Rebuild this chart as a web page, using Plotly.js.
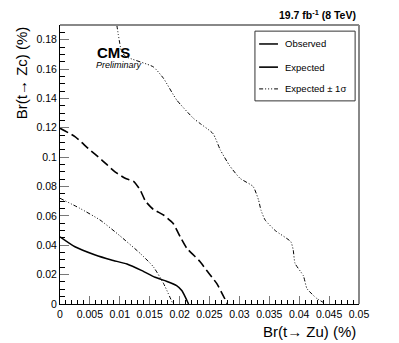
<!DOCTYPE html>
<html>
<head>
<meta charset="utf-8">
<script src="https://cdn.plot.ly/plotly-3.0.1.min.js"></script>
<style>
  body { margin: 0; background: #fff; }
  #plot { width: 399px; height: 343px; }
</style>
</head>
<body>
<div id="plot"></div>
<script>
// limit contours (Br in %)
const obsX = [0, 0.0025, 0.0059, 0.0086, 0.0112, 0.0137, 0.0159, 0.0178, 0.0195, 0.0204, 0.0215];
const obsY = [0.0458, 0.039, 0.0334, 0.030, 0.0272, 0.0227, 0.0182, 0.0155, 0.0125, 0.009, 0];

const expX = [0, 0.0025, 0.0047, 0.0070, 0.0092, 0.0109, 0.0123, 0.0134, 0.0143, 0.0156, 0.0173, 0.0189, 0.0201, 0.0212, 0.0234, 0.0245, 0.0262, 0.0280];
const expY = [0.1197, 0.114, 0.106, 0.098, 0.090, 0.0856, 0.0835, 0.0777, 0.0700, 0.0645, 0.0606, 0.055, 0.0458, 0.038, 0.029, 0.023, 0.014, 0];

const upX = [0.0095, 0.0103, 0.0110, 0.0156, 0.0173, 0.0195, 0.0223, 0.0234, 0.0256, 0.0268, 0.0284, 0.0301, 0.0323, 0.0332, 0.0336, 0.0343, 0.0360, 0.0386, 0.0390, 0.0393, 0.0407, 0.0413, 0.0429, 0.0445];
const upY = [0.19, 0.172, 0.1685, 0.1615, 0.1537, 0.139, 0.1265, 0.123, 0.116, 0.105, 0.094, 0.0856, 0.080, 0.0708, 0.064, 0.0572, 0.050, 0.0424, 0.0368, 0.0277, 0.0192, 0.0105, 0.0039, 0];

const downX = [0, 0.0033, 0.0067, 0.0100, 0.0134, 0.0156, 0.0173, 0.0189];
const downY = [0.072, 0.0652, 0.0572, 0.0465, 0.0345, 0.0254, 0.0141, 0];

const legendNames = ['Observed', 'Expected', 'Expected \u00b1 1\u03c3'];

const font = 'Liberation Sans, Arial, sans-serif';
const sigmaDash = '4px,2px,1px,2px,1px,2px,1px,2px';
const expDash = '9px,4px';

const traces = [
  { x: obsX, y: obsY, mode: 'lines', showlegend: false,
    line: { color: '#000', width: 1.5, shape: 'spline', smoothing: 0.5 } },
  { x: expX, y: expY, mode: 'lines', showlegend: false,
    line: { color: '#000', width: 1.6, dash: expDash, shape: 'spline', smoothing: 0.5 } },
  { x: upX, y: upY, mode: 'lines', showlegend: false,
    line: { color: '#000', width: 1, dash: sigmaDash, shape: 'spline', smoothing: 0.5 } },
  { x: downX, y: downY, mode: 'lines', showlegend: false,
    line: { color: '#000', width: 1, dash: sigmaDash, shape: 'spline', smoothing: 0.5 } }
];

// hand-made ROOT style legend box
const legRows = [0.932, 0.849, 0.771];
const legStyles = [
  { color: '#000', width: 1.5 },
  { color: '#000', width: 1.6 },
  { color: '#000', width: 1, dash: sigmaDash }
];
const shapes = [
  { type: 'line', xref: 'paper', yref: 'paper', x0: 0, x1: 1, y0: 1, y1: 1,
    line: { color: '#888', width: 2 } },
  { type: 'line', xref: 'paper', yref: 'paper', x0: 1, x1: 1, y0: 0, y1: 1,
    line: { color: '#888', width: 2 } },
  { type: 'rect', xref: 'paper', yref: 'paper', x0: 0.652, x1: 0.987, y0: 0.728, y1: 0.978,
    fillcolor: '#fff', line: { color: '#333', width: 1 } }
];
const annotations = [];
legendNames.forEach(function(name, i) {
  shapes.push({ type: 'line', xref: 'paper', yref: 'paper', x0: 0.666, x1: 0.729,
    y0: legRows[i], y1: legRows[i], line: legStyles[i] });
  annotations.push({ text: name, xref: 'paper', yref: 'paper', x: 0.746, y: legRows[i],
    xanchor: 'left', yanchor: 'middle', showarrow: false, font: { size: 9.5 } });
});

annotations.push(
  { text: '<b>CMS</b>', xref: 'paper', yref: 'paper', x: 0.117, y: 0.939,
    showarrow: false, font: { size: 15 } },
  { text: '<i>Preliminary</i>', xref: 'paper', yref: 'paper', x: 0.114, y: 0.882,
    showarrow: false, font: { size: 9 } },
  { text: '<b>19.7 fb<sup>-1</sup> (8 TeV)</b>', xref: 'paper', yref: 'paper',
    x: 0.997, y: 1.039, xanchor: 'right', yanchor: 'middle',
    showarrow: false, font: { size: 10.5 } },
  { text: 'Br(t\u2192 Zu) (%)', xref: 'paper', yref: 'paper',
    x: 0.997, y: -0.1, xanchor: 'right', yanchor: 'middle',
    showarrow: false, font: { size: 15 } },
  { text: 'Br(t\u2192 Zc) (%)', xref: 'paper', yref: 'paper',
    x: -0.13, y: 1, xanchor: 'center', yanchor: 'top', textangle: -90,
    showarrow: false, font: { size: 15 } }
);

const layout = {
  width: 399, height: 343,
  margin: { l: 60, r: 40, t: 25, b: 39 },
  paper_bgcolor: '#fff', plot_bgcolor: '#fff',
  font: { family: font, color: '#000', size: 10.5 },
  showlegend: false,
  xaxis: {
    range: [0, 0.05], showgrid: false, zeroline: false,
    showline: true, linecolor: '#000', linewidth: 1,
    ticks: 'inside', ticklen: 8, tickcolor: '#777', dtick: 0.005, tick0: 0,
    minor: { dtick: 0.001, ticks: 'inside', ticklen: 4, tickcolor: '#000' },
    tickfont: { size: 10.5 }
  },
  yaxis: {
    range: [0, 0.19], showgrid: false, zeroline: false,
    showline: true, linecolor: '#000', linewidth: 1,
    ticks: 'inside', ticklen: 9, tickcolor: '#777', dtick: 0.02, tick0: 0,
    minor: { dtick: 0.005, ticks: 'inside', ticklen: 5, tickcolor: '#000' },
    tickfont: { size: 10.5 }
  },
  shapes: shapes,
  annotations: annotations
};

Plotly.newPlot('plot', traces, layout, { staticPlot: true });
</script>
</body>
</html>
